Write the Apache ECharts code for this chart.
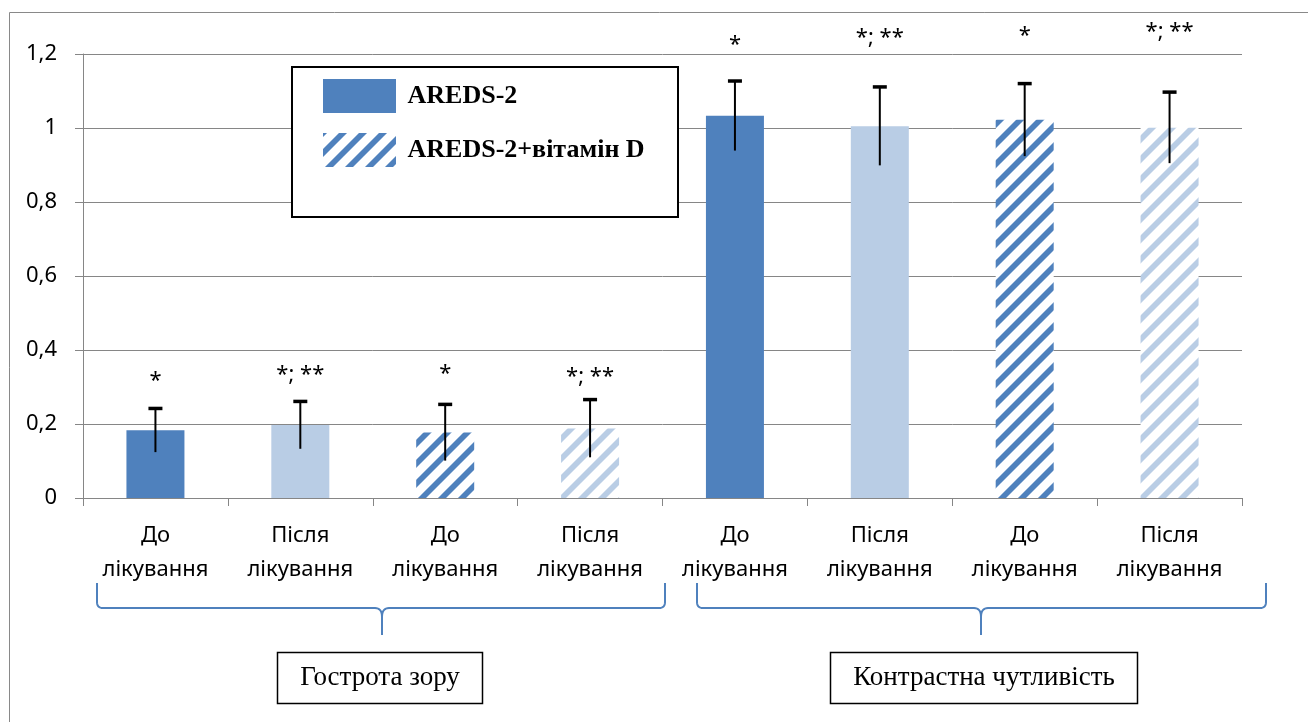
<!DOCTYPE html>
<html>
<head>
<meta charset="utf-8">
<script src="https://cdn.jsdelivr.net/npm/echarts@6/dist/echarts.min.js"></script>
<style>
  html, body { margin: 0; padding: 0; background: #fff; }
  #chart { width: 1308px; height: 722px; }
</style>
</head>
<body>
<div id="chart"></div>
<script>
// ---- data ----
const categories = [
  'До\nлікування', 'Після\nлікування', 'До\nлікування', 'Після\nлікування',
  'До\nлікування', 'Після\nлікування', 'До\nлікування', 'Після\nлікування'
];
const regimens = ['AREDS-2', 'AREDS-2+вітамін D'];
const regimenOf = [0, 0, 1, 1, 0, 0, 1, 1];
const afterTreatment = [false, true, false, true, false, true, false, true];
const means = [0.183, 0.197, 0.177, 0.188, 1.033, 1.005, 1.022, 1.001];
const sds = [0.059, 0.064, 0.076, 0.078, 0.094, 0.106, 0.098, 0.096];
const marks = ['*', '*; **', '*', '*; **', '*', '*; **', '*', '*; **'];
const groups = ['Гострота зору', 'Контрастна чутливість'];
const yMin = 0, yMax = 1.2, yStep = 0.2;

// ---- layout / styling ----
const DARK = '#4F81BD';
const LIGHT = '#B9CDE5';
const SANS = '"Noto Sans", "DejaVu Sans", sans-serif';
const SERIF = '"Liberation Serif", "DejaVu Serif", serif';
const markLift = [28, 27, 31, 23, 36, 49, 48, 60]; // px from the error cap to the mark text

function hatch(color) {
  const c = document.createElement('canvas');
  c.width = 20; c.height = 20;
  const g = c.getContext('2d');
  g.fillStyle = '#fff';
  g.fillRect(0, 0, 20, 20);
  g.strokeStyle = color;
  g.lineWidth = 5.7;
  g.beginPath();
  for (const s of [0, 20, 40]) { g.moveTo(s + 5, -5); g.lineTo(-5, s + 5); }
  g.stroke();
  return { image: c, repeat: 'repeat' };
}
const fills = [
  [DARK, LIGHT],
  [hatch(DARK), hatch(LIGHT)]
];

const barSeries = regimens.map((name, r) => ({
  name: name,
  type: 'bar',
  barWidth: 58,
  barGap: '-100%',
  itemStyle: { color: fills[r][0] },
  data: means.map((v, i) => regimenOf[i] === r
    ? { value: v, itemStyle: { color: fills[r][afterTreatment[i] ? 1 : 0] } }
    : null)
}));

const errorSeries = {
  type: 'custom',
  z: 10,
  clip: false,
  encode: { x: 0, y: 1 },
  data: means.map((m, i) => [i, m, sds[i]]),
  renderItem(params, api) {
    const i = api.value(0), m = api.value(1), s = api.value(2);
    const top = api.coord([i, m + s]);
    const bot = api.coord([i, m - s]);
    return {
      type: 'group',
      children: [
        { type: 'line', shape: { x1: top[0], y1: top[1], x2: bot[0], y2: bot[1] },
          style: { stroke: '#000', lineWidth: 2 } },
        { type: 'line', shape: { x1: top[0] - 7, y1: top[1], x2: top[0] + 7, y2: top[1] },
          style: { stroke: '#000', lineWidth: 3.5 } },
        { type: 'text', x: top[0], y: top[1] - markLift[i],
          style: { text: marks[params.dataIndex], fill: '#000', fontFamily: SANS, fontSize: 22,
                   textAlign: 'center', textVerticalAlign: 'middle' } }
      ]
    };
  }
};

// curly brace under a group of categories, as two polylines (left and right halves)
function quad(p0, c, p1, n) {
  const pts = [];
  for (let k = 0; k <= n; k++) {
    const t = k / n, u = 1 - t;
    pts.push([u * u * p0[0] + 2 * u * t * c[0] + t * t * p1[0],
              u * u * p0[1] + 2 * u * t * c[1] + t * t * p1[1]]);
  }
  return pts;
}
function braceHalves(x0, x1, xm, yTop, yLine, yTip) {
  const left = [[x0, yTop]]
    .concat(quad([x0, yLine - 6], [x0, yLine], [x0 + 6, yLine], 8))
    .concat(quad([xm - 7, yLine], [xm, yLine], [xm, yLine + 9], 8))
    .concat([[xm, yTip]]);
  const right = [[x1, yTop]]
    .concat(quad([x1, yLine - 6], [x1, yLine], [x1 - 6, yLine], 8))
    .concat(quad([xm + 7, yLine], [xm, yLine], [xm, yLine + 9], 8));
  const st = { fill: 'none', stroke: DARK, lineWidth: 2 };
  return [
    { type: 'polyline', silent: true, shape: { points: left }, style: st },
    { type: 'polyline', silent: true, shape: { points: right }, style: st }
  ];
}

const chart = echarts.init(document.getElementById('chart'), null, { renderer: 'canvas' });
chart.setOption({
  animation: false,
  backgroundColor: '#fff',
  grid: { left: 83, right: 66, top: 54, bottom: 224, outerBoundsMode: 'none' },
  legend: {
    data: regimens,
    orient: 'vertical',
    left: 323, top: 79,
    padding: 0,
    itemWidth: 73, itemHeight: 34, itemGap: 20,
    icon: 'rect',
    selectedMode: false,
    z: 5,
    formatter: n => ' ' + n,
    textStyle: { fontFamily: SERIF, fontWeight: 'bold', fontSize: 26, color: '#000' }
  },
  xAxis: {
    type: 'category',
    data: categories,
    axisLine: { lineStyle: { color: '#868686', width: 1 } },
    axisTick: { show: true, length: 8, lineStyle: { color: '#868686' } },
    axisLabel: { interval: 0, margin: 21, fontFamily: SANS, fontSize: 22, lineHeight: 34, color: '#000' },
    splitLine: { show: false }
  },
  yAxis: {
    type: 'value',
    min: yMin, max: yMax, interval: yStep,
    axisLine: { show: true, lineStyle: { color: '#868686', width: 1 } },
    axisTick: { show: true, length: 8, lineStyle: { color: '#868686' } },
    axisLabel: {
      margin: 26, fontFamily: SANS, fontSize: 22, color: '#000',
      formatter: v => String(Number(v.toFixed(1))).replace('.', ',')
    },
    splitLine: { lineStyle: { color: '#868686', width: 1 } }
  },
  graphic: [
    { type: 'rect', silent: true, z: 0, shape: { x: 9.5, y: 12.5, width: 1400, height: 800 },
      style: { fill: 'none', stroke: '#898989', lineWidth: 1 } },
    { type: 'rect', silent: true, z: 4, shape: { x: 292, y: 67, width: 386, height: 150 },
      style: { fill: '#fff', stroke: '#000', lineWidth: 2 } },
    ...braceHalves(97, 665, 382, 583, 608, 635),
    ...braceHalves(697, 1266, 981, 583, 608, 635),
    { type: 'rect', silent: true, shape: { x: 277.5, y: 652.5, width: 205, height: 51 },
      style: { fill: '#fff', stroke: '#000', lineWidth: 1.5 } },
    { type: 'text', silent: true, x: 380, y: 678,
      style: { text: groups[0], fill: '#000', fontFamily: SERIF, fontSize: 27,
               textAlign: 'center', textVerticalAlign: 'middle' } },
    { type: 'rect', silent: true, shape: { x: 830.5, y: 652.5, width: 307, height: 51 },
      style: { fill: '#fff', stroke: '#000', lineWidth: 1.5 } },
    { type: 'text', silent: true, x: 984, y: 678,
      style: { text: groups[1], fill: '#000', fontFamily: SERIF, fontSize: 27,
               textAlign: 'center', textVerticalAlign: 'middle' } }
  ],
  series: [...barSeries, errorSeries]
});
</script>
</body>
</html>
